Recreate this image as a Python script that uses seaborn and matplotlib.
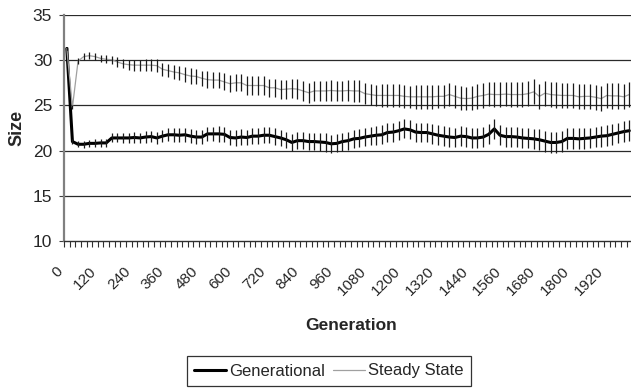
import matplotlib
matplotlib.use("Agg")
import matplotlib.pyplot as plt
import matplotlib.transforms as mtransforms
import seaborn as sns
import pandas as pd
from matplotlib.ticker import FixedLocator
from matplotlib.lines import Line2D

# ---------------- data ----------------
generations = list(range(0, 2001, 20))

generational = [
    31.3, 21.0, 20.7, 20.7, 20.8, 20.8, 20.85, 20.85, 21.4, 21.4,
    21.4, 21.4, 21.45, 21.4, 21.5, 21.55, 21.4, 21.6, 21.75, 21.75,
    21.7, 21.75, 21.6, 21.5, 21.5, 21.85, 21.85, 21.85, 21.8, 21.45,
    21.4, 21.5, 21.45, 21.6, 21.6, 21.7, 21.7, 21.55, 21.4, 21.2,
    20.9, 21.1, 21.1, 21.0, 21.0, 20.95, 20.9, 20.75, 20.8, 21.0,
    21.1, 21.3, 21.35, 21.5, 21.6, 21.7, 21.75, 22.0, 22.05, 22.2,
    22.4, 22.3, 22.05, 22.0, 22.0, 21.85, 21.7, 21.6, 21.5, 21.45,
    21.6, 21.55, 21.4, 21.4, 21.5, 21.8, 22.4, 21.7, 21.55, 21.55,
    21.5, 21.4, 21.35, 21.3, 21.2, 21.05, 20.9, 20.9, 21.0, 21.35,
    21.35, 21.3, 21.35, 21.4, 21.5, 21.6, 21.65, 21.8, 21.95, 22.1,
    22.2,
]

steady_state = [
    31.3, 24.8, 29.9, 30.4, 30.5, 30.4, 30.2, 30.1, 30.05, 29.8,
    29.6, 29.5, 29.45, 29.45, 29.45, 29.45, 29.4, 29.0, 28.85, 28.7,
    28.6, 28.4, 28.25, 28.2, 28.0, 27.85, 27.8, 27.8, 27.6, 27.4,
    27.5, 27.5, 27.2, 27.2, 27.2, 27.2, 26.95, 26.95, 26.75, 26.8,
    26.85, 26.8, 26.6, 26.4, 26.6, 26.6, 26.6, 26.65, 26.6, 26.6,
    26.65, 26.6, 26.6, 26.3, 26.2, 26.1, 26.1, 26.1, 26.1, 26.1,
    26.0, 25.95, 25.95, 25.95, 25.95, 25.95, 26.0, 26.0, 26.2, 26.0,
    25.8, 25.75, 25.8, 26.0, 26.1, 26.25, 26.2, 26.2, 26.25, 26.2,
    26.2, 26.2, 26.3, 26.5, 26.0, 26.35, 26.2, 26.15, 26.1, 26.1,
    26.1, 25.95, 26.0, 26.0, 25.9, 25.75, 26.1, 26.05, 26.05, 25.95,
    26.2,
]

generational_err = [
    0.2, 0.3, 0.35, 0.4, 0.4, 0.45, 0.45, 0.45, 0.5, 0.5,
    0.55, 0.55, 0.6, 0.6, 0.65, 0.65, 0.65, 0.7, 0.7, 0.75,
    0.75, 0.75, 0.8, 0.8, 0.8, 0.8, 0.8, 0.85, 0.85, 0.85,
    0.85, 0.85, 0.85, 0.9, 0.9, 0.9, 0.9, 0.9, 0.9, 0.9,
    0.9, 0.95, 0.95, 0.95, 0.95, 0.95, 1.0, 1.0, 1.0, 1.0,
    1.0, 1.0, 1.0, 1.0, 1.0, 1.05, 1.05, 1.05, 1.05, 1.05,
    1.05, 1.05, 1.05, 1.05, 1.1, 1.1, 1.1, 1.1, 1.1, 1.1,
    1.1, 1.1, 1.1, 1.1, 1.1, 1.1, 1.1, 1.1, 1.1, 1.1,
    1.1, 1.1, 1.1, 1.1, 1.15, 1.15, 1.15, 1.15, 1.15, 1.15,
    1.15, 1.15, 1.15, 1.15, 1.15, 1.15, 1.15, 1.15, 1.15, 1.15,
    1.15,
]

steady_err = [
    0.2, 0.2, 0.3, 0.35, 0.4, 0.4, 0.4, 0.45, 0.45, 0.5,
    0.5, 0.55, 0.6, 0.6, 0.65, 0.65, 0.7, 0.7, 0.75, 0.75,
    0.8, 0.8, 0.85, 0.85, 0.85, 0.9, 0.9, 0.9, 0.95, 0.95,
    0.95, 0.95, 1.0, 1.0, 1.0, 1.0, 1.0, 1.0, 1.05, 1.05,
    1.05, 1.1, 1.1, 1.1, 1.1, 1.15, 1.15, 1.15, 1.15, 1.15,
    1.2, 1.2, 1.2, 1.2, 1.2, 1.2, 1.25, 1.25, 1.25, 1.25,
    1.25, 1.25, 1.3, 1.3, 1.3, 1.3, 1.3, 1.3, 1.3, 1.3,
    1.3, 1.3, 1.35, 1.35, 1.35, 1.35, 1.35, 1.35, 1.35, 1.35,
    1.35, 1.35, 1.35, 1.4, 1.4, 1.4, 1.4, 1.4, 1.4, 1.4,
    1.4, 1.4, 1.4, 1.4, 1.4, 1.4, 1.4, 1.4, 1.4, 1.4,
    1.4,
]

label_ticks = list(range(0, 1921, 120))
label_texts = [str(v) for v in label_ticks]
y_ticks = [10, 15, 20, 25, 30, 35]

# ---------------- style ----------------
sns.set_theme(style="white")
plt.rcParams["font.family"] = ["Liberation Sans", "DejaVu Sans"]

fig = plt.figure(figsize=(6.31, 3.89), dpi=100)
ax = fig.add_axes([64 / 631, 1 - 241 / 389, 1 - 64 / 631, (241 - 15) / 389])

df = pd.DataFrame({
    "Generation": generations * 2,
    "Size": generational + steady_state,
    "Series": ["Generational"] * len(generations) + ["Steady State"] * len(generations),
})

# gridlines
for yv in y_ticks[1:]:
    ax.axhline(yv, color="#2a2a2a", lw=0.9, zorder=1)

sns.lineplot(data=df, x="Generation", y="Size", hue="Series", size="Series",
             hue_order=["Generational", "Steady State"],
             palette={"Generational": "black", "Steady State": "#a0a0a0"},
             sizes={"Generational": 2.2, "Steady State": 0.9},
             ax=ax, legend=False, zorder=3)

ax.errorbar(generations, steady_state, yerr=steady_err, fmt="none",
            ecolor="#1a1a1a", elinewidth=0.9, capsize=0, zorder=4)
ax.errorbar(generations, generational, yerr=generational_err, fmt="none",
            ecolor="#1a1a1a", elinewidth=0.9, capsize=0, zorder=4)

ax.set_xlim(-10, 2006)
ax.set_ylim(10, 35)

# y axis
ax.set_yticks(y_ticks)
ax.tick_params(axis="y", which="major", direction="out", length=3.5, width=0.8,
               color="#404040", labelsize=12.5, pad=5, left=True)
# x axis: labels at categories, tick marks between categories
ax.xaxis.set_major_locator(FixedLocator(label_ticks))
ax.set_xticklabels(label_texts, rotation=45, ha="right", va="center",
                   rotation_mode="anchor")
ax.xaxis.set_minor_locator(FixedLocator(list(range(-10, 2006, 20))))
ax.tick_params(axis="x", which="major", length=0, labelsize=11, pad=20)
ax.tick_params(axis="x", which="minor", direction="out", length=4, width=0.8,
               color="#303030", bottom=True)
shift = mtransforms.ScaledTranslation(-6 / 100, 0, fig.dpi_scale_trans)
for lab in ax.get_xticklabels():
    lab.set_transform(lab.get_transform() + shift)

for s in ["top", "right"]:
    ax.spines[s].set_visible(False)
ax.spines["left"].set_color("#808080")
ax.spines["left"].set_linewidth(1.6)
ax.spines["bottom"].set_color("#303030")
ax.spines["bottom"].set_linewidth(1.0)

ax.set_xlabel("")
ax.set_ylabel("")
fig.text(17 / 631, 1 - 128 / 389, "Size", rotation=90, fontsize=13,
         fontweight="bold", ha="center", va="center")
fig.text(351 / 631, 1 - 325 / 389, "Generation", fontsize=12.5,
         fontweight="bold", ha="center", va="center")

handles = [Line2D([], [], color="black", lw=2.2),
           Line2D([], [], color="#a0a0a0", lw=0.9)]
leg = fig.legend(handles, ["Generational", "Steady State"], ncol=2,
                 loc="center", bbox_to_anchor=(329 / 631, 1 - 371 / 389),
                 fontsize=12, frameon=True, fancybox=False, handlelength=1.9,
                 handletextpad=0.2, columnspacing=0.5, borderpad=0.45,
                 borderaxespad=0)
leg.get_frame().set_edgecolor("black")
leg.get_frame().set_linewidth(0.9)

fig.savefig("out.png", dpi=100)
